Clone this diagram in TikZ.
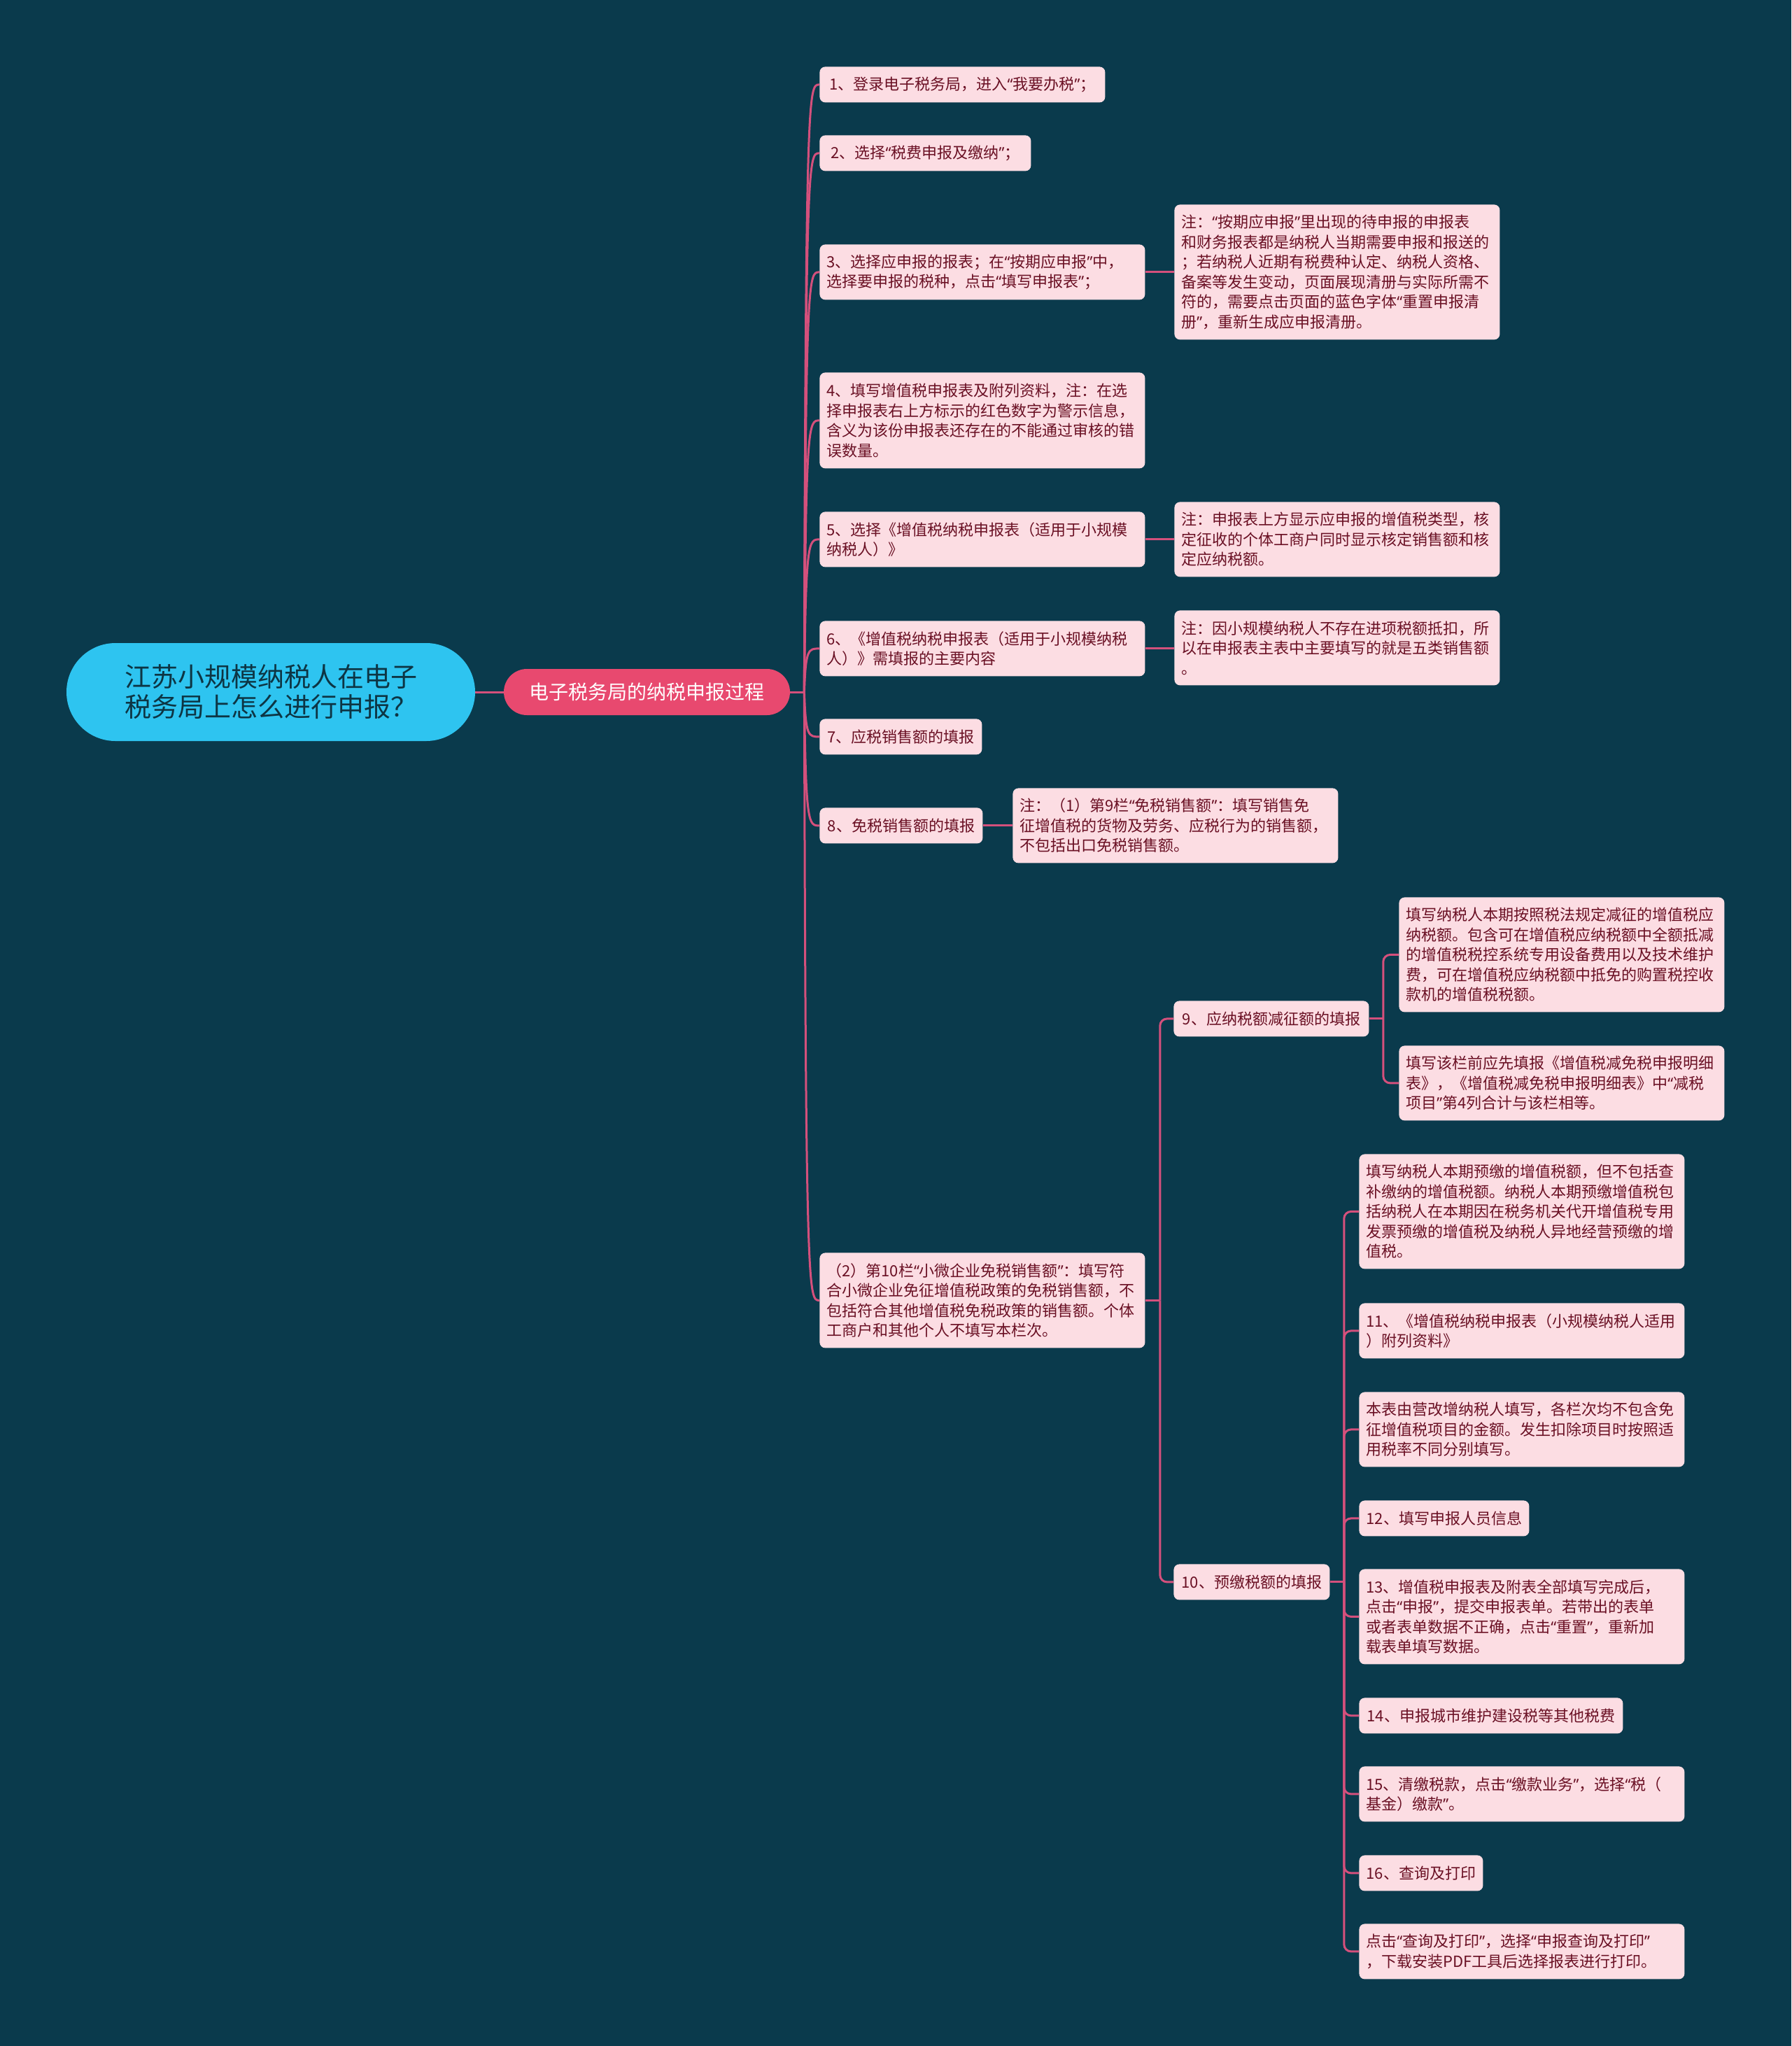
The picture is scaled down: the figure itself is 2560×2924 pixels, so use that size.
\documentclass[tikz,border=0pt]{standalone}
\usepackage{fontspec}
\setmainfont{Noto Sans CJK SC}
\newfontfamily\quotefont{Noto Sans}
\newcommand{\oq}{{\quotefont “}}
\newcommand{\cq}{{\quotefont ”}}
\usetikzlibrary{calc}
\definecolor{bgcol}{HTML}{0A3A4C}
\definecolor{leaffill}{HTML}{FCDDE3}
\definecolor{leaftext}{HTML}{6A1024}
\definecolor{conncol}{HTML}{D4507C}
\definecolor{rootfill}{HTML}{2EC4F0}
\definecolor{roottext}{HTML}{0D3544}
\definecolor{subfill}{HTML}{E8496F}
\tikzset{
  leaf/.style={anchor=north west, fill=leaffill, text=leaftext, rounded corners=4pt,
    inner xsep=5pt, inner ysep=0pt, align=left, font=\fontsize{11}{14.25}\selectfont},
  wide/.style={text width=222.5pt},
  rootbox/.style={fill=rootfill, text=roottext, minimum width=292pt, minimum height=70pt,
    rounded corners=35pt, align=center, inner sep=0pt, font=\fontsize{19}{21.5}\selectfont},
  subbox/.style={fill=subfill, text=white, minimum width=204.5pt, minimum height=33pt,
    rounded corners=16.5pt, align=center, inner sep=0pt, font=\fontsize{14}{16}\selectfont},
  conn/.style={draw=conncol, line width=1.5pt},
  elbow/.style={draw=conncol, line width=1.5pt, rounded corners=5pt},
}
\begin{document}
\begin{tikzpicture}[x=0.5pt,y=-0.5pt]
\fill[bgcol] (0,0) rectangle (2560,2924);
\useasboundingbox (0,0) rectangle (2560,2924);

% root and main branch
\node[rootbox] (root) at (387,989) {江苏小规模纳税人在电子\\税务局上怎么进行申报？};
\node[subbox] (sub) at (924.5,989) {电子税务局的纳税申报过程};

% first level leaves
\node[leaf, minimum width=204pt, minimum height=25.5pt] (n1) at (1171,95) {1、登录电子税务局，进入\oq 我要办税\cq；};
\node[leaf, minimum width=151pt, minimum height=25.5pt] (n2) at (1171,193) {2、选择\oq 税费申报及缴纳\cq；};
\node[leaf, wide, minimum height=39.5pt] (n3) at (1171,349) {3、选择应申报的报表；在\oq 按期应申报\cq 中，\\选择要申报的税种，点击\oq 填写申报表\cq；};
\node[leaf, wide, minimum height=96.5pt] (t3) at (1678,292) {注：\oq 按期应申报\cq 里出现的待申报的申报表\\和财务报表都是纳税人当期需要申报和报送的\\；若纳税人近期有税费种认定、纳税人资格、\\备案等发生变动，页面展现清册与实际所需不\\符的，需要点击页面的蓝色字体\oq 重置申报清\\册\cq，重新生成应申报清册。};
\node[leaf, wide, minimum height=68.5pt] (n4) at (1171,532) {4、填写增值税申报表及附列资料，注：在选\\择申报表右上方标示的红色数字为警示信息，\\含义为该份申报表还存在的不能通过审核的错\\误数量。};
\node[leaf, wide, minimum height=39.5pt] (n5) at (1171,731) {5、选择《增值税纳税申报表（适用于小规模\\纳税人）》};
\node[leaf, wide, minimum height=53.5pt] (t5) at (1678,717) {注：申报表上方显示应申报的增值税类型，核\\定征收的个体工商户同时显示核定销售额和核\\定应纳税额。};
\node[leaf, wide, minimum height=39.5pt] (n6) at (1171,887) {6、《增值税纳税申报表（适用于小规模纳税\\人）》需填报的主要内容};
\node[leaf, wide, minimum height=53.5pt] (t6) at (1678,872) {注：因小规模纳税人不存在进项税额抵扣，所\\以在申报表主表中主要填写的就是五类销售额\\。};
\node[leaf, minimum width=116pt, minimum height=25.5pt] (n7) at (1171,1027) {7、应税销售额的填报};
\node[leaf, minimum width=116.5pt, minimum height=25.5pt] (n8) at (1171,1154) {8、免税销售额的填报};
\node[leaf, wide, minimum height=53.5pt] (t8) at (1447,1126) {注：（1）第9栏\oq 免税销售额\cq：填写销售免\\征增值税的货物及劳务、应税行为的销售额，\\不包括出口免税销售额。};
\node[leaf, wide, minimum height=68pt] (n2b) at (1171,1790) {（2）第10栏\oq 小微企业免税销售额\cq：填写符\\合小微企业免征增值税政策的免税销售额，不\\包括符合其他增值税免税政策的销售额。个体\\工商户和其他个人不填写本栏次。};

% second level
\node[leaf, minimum width=139.5pt, minimum height=25.5pt] (n9) at (1677,1430) {9、应纳税额减征额的填报};
\node[leaf, minimum width=111.5pt, minimum height=25.5pt] (n10) at (1677,2235) {10、预缴税额的填报};

% children of 9
\node[leaf, wide, minimum height=82pt] (n9a) at (1999,1282) {填写纳税人本期按照税法规定减征的增值税应\\纳税额。包含可在增值税应纳税额中全额抵减\\的增值税税控系统专用设备费用以及技术维护\\费，可在增值税应纳税额中抵免的购置税控收\\款机的增值税税额。};
\node[leaf, wide, minimum height=53.5pt] (n9b) at (1999,1494) {填写该栏前应先填报《增值税减免税申报明细\\表》，《增值税减免税申报明细表》中\oq 减税\\项目\cq 第4列合计与该栏相等。};

% children of 10
\node[leaf, wide, minimum height=82pt] (n10a) at (1942,1649) {填写纳税人本期预缴的增值税额，但不包括查\\补缴纳的增值税额。纳税人本期预缴增值税包\\括纳税人在本期因在税务机关代开增值税专用\\发票预缴的增值税及纳税人异地经营预缴的增\\值税。};
\node[leaf, wide, minimum height=39.5pt] (n10b) at (1942,1862) {11、《增值税纳税申报表（小规模纳税人适用\\）附列资料》};
\node[leaf, wide, minimum height=53.5pt] (n10c) at (1942,1989) {本表由营改增纳税人填写，各栏次均不包含免\\征增值税项目的金额。发生扣除项目时按照适\\用税率不同分别填写。};
\node[leaf, minimum width=121.5pt, minimum height=25.5pt] (n10d) at (1942,2144) {12、填写申报人员信息};
\node[leaf, wide, minimum height=68pt] (n10e) at (1942,2242) {13、增值税申报表及附表全部填写完成后，\\点击\oq 申报\cq，提交申报表单。若带出的表单\\或者表单数据不正确，点击\oq 重置\cq，重新加\\载表单填写数据。};
\node[leaf, minimum width=188.5pt, minimum height=25.5pt] (n10f) at (1942,2426) {14、申报城市维护建设税等其他税费};
\node[leaf, wide, minimum height=39.5pt] (n10g) at (1942,2524) {15、清缴税款，点击\oq 缴款业务\cq，选择\oq 税（\\基金）缴款\cq。};
\node[leaf, minimum width=88.5pt, minimum height=25.5pt] (n10h) at (1942,2651) {16、查询及打印};
\node[leaf, wide, minimum height=39.5pt] (n10i) at (1942,2749) {点击\oq 查询及打印\cq，选择\oq 申报查询及打印\cq\\，下载安装PDF工具后选择报表进行打印。};

% connectors
\draw[conn] (root.east) -- (sub.west);
\coordinate (j) at ($(sub.east)+(20,0)$);
\draw[conn] (sub.east) -- (j);
\foreach \c in {n1,n2,n3,n4,n5,n6,n7,n8,n2b}
  \draw[conn] (j) .. controls ($(j|-\c.west)+(2,0)$) and ($(j|-\c.west)+(6,0)$) .. (\c.west);
\draw[conn] (n3.east) -- (t3.west|-n3.east);
\draw[conn] (n5.east) -- (t5.west|-n5.east);
\draw[conn] (n6.east) -- (t6.west|-n6.east);
\draw[conn] (n8.east) -- (t8.west|-n8.east);

\coordinate (k2) at ($(n2b.east)+(21,0)$);
\draw[conn] (n2b.east) -- (k2);
\foreach \c in {n9,n10}
  \draw[elbow] (k2) |- (\c.west);

\coordinate (k9) at ($(n9.east)+(20,0)$);
\draw[conn] (n9.east) -- (k9);
\foreach \c in {n9a,n9b}
  \draw[elbow] (k9) |- (\c.west);

\coordinate (k10) at ($(n10.east)+(20,0)$);
\draw[conn] (n10.east) -- (k10);
\foreach \c in {n10a,n10b,n10c,n10d,n10e,n10f,n10g,n10h,n10i}
  \draw[elbow] (k10) |- (\c.west);
\end{tikzpicture}
\end{document}
